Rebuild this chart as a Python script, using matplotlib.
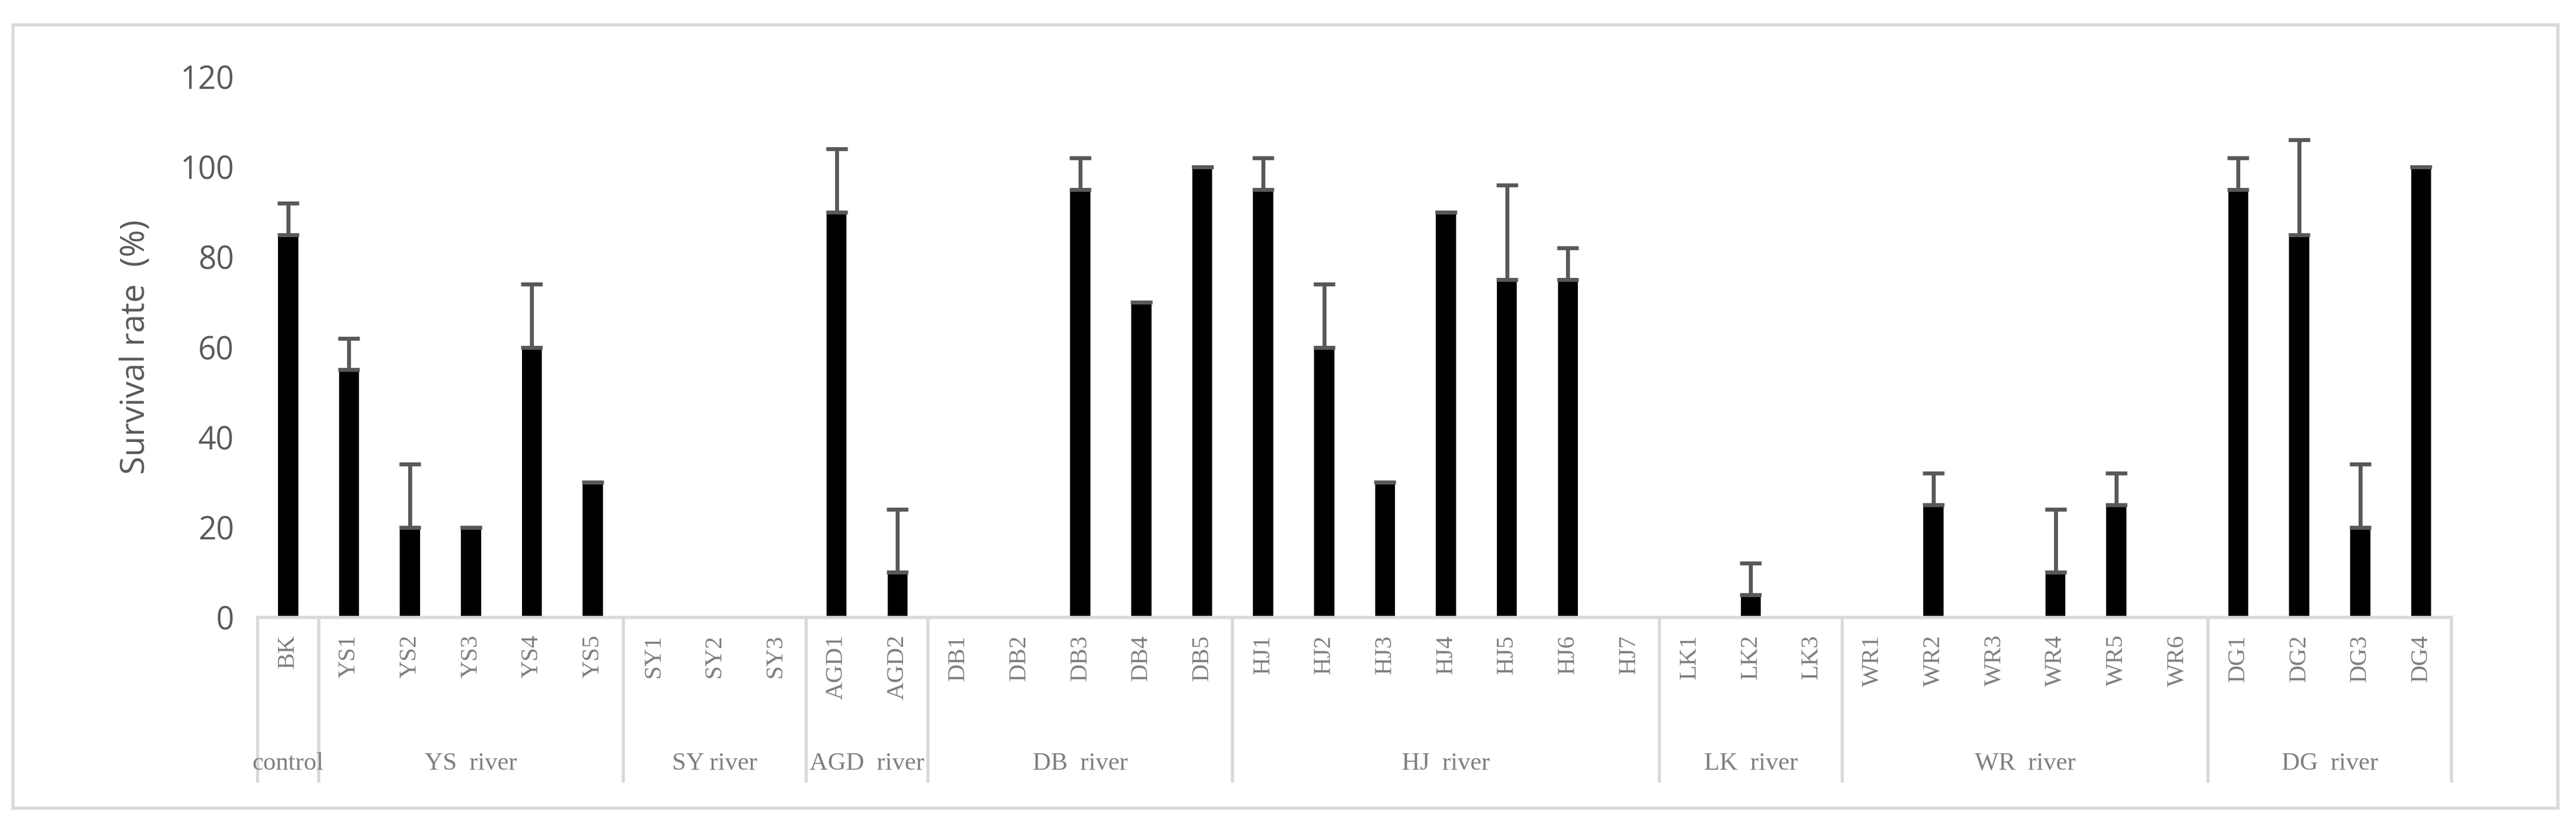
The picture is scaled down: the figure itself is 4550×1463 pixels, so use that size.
import matplotlib
matplotlib.use("Agg")
import matplotlib.pyplot as plt
from matplotlib.patches import Rectangle
import matplotlib.transforms as mtrans

samples = ["BK","YS1","YS2","YS3","YS4","YS5","SY1","SY2","SY3","AGD1","AGD2",
           "DB1","DB2","DB3","DB4","DB5","HJ1","HJ2","HJ3","HJ4","HJ5","HJ6","HJ7",
           "LK1","LK2","LK3","WR1","WR2","WR3","WR4","WR5","WR6","DG1","DG2","DG3","DG4"]
values = [85,55,20,20,60,30,0,0,0,90,10,
          0,0,95,70,100,95,60,30,90,75,75,0,
          0,5,0,0,25,0,10,25,0,95,85,20,100]
errors = [7,7,14,0,14,0,None,None,None,14,14,
          None,None,7,0,0,7,14,0,0,21,7,None,
          None,7,None,None,7,None,14,7,None,7,21,14,0]
groups = ["control","YS  river","SY river","AGD  river","DB  river","HJ  river","LK  river","WR  river","DG  river"]
group_sizes = [1,5,3,2,5,7,3,6,4]

fig = plt.figure(figsize=(45.5,14.63), dpi=100)
fig.patches.append(Rectangle((0.005,0.024),0.988,0.946, transform=fig.transFigure,
                             fill=False, edgecolor="#d9d9d9", linewidth=4))
ax = fig.add_axes([0.1,0.2543,0.8517,0.6527])
x = list(range(len(samples)))
ax.bar(x, values, width=0.33, color="black", zorder=2)
for xi, v, e in zip(x, values, errors):
    if e is None:
        continue
    ax.errorbar([xi],[v],yerr=[[0],[e]], fmt="none", ecolor="#595959",
                elinewidth=5, capsize=14, capthick=5, zorder=3)
ax.set_xlim(-0.5, len(samples)-0.5)
ax.set_ylim(0,120)
ax.set_yticks(range(0,121,20))
ax.tick_params(axis="y", length=0, labelsize=40, labelcolor="#595959", pad=30)
for t in ax.get_yticklabels():
    t.set_family("Open Sans")
ax.set_ylabel("Survival rate  (%)", fontsize=42, color="#595959", family="Open Sans", labelpad=35)
ax.set_xticks(x)
ax.set_xticklabels(samples, rotation=90, fontsize=31, color="#7f7f7f", family="Liberation Serif")
ax.tick_params(axis="x", length=0, pad=22)
for s in ["top","right","left"]:
    ax.spines[s].set_visible(False)
ax.spines["bottom"].set_color("#d9d9d9")
ax.spines["bottom"].set_linewidth(4)

trans = mtrans.blended_transform_factory(ax.transData, ax.transAxes)
bounds = [-0.5]
for g in group_sizes:
    bounds.append(bounds[-1]+g)
for b in bounds:
    ax.plot([b,b],[0,-0.303], transform=trans, color="#d9d9d9", lw=4, clip_on=False)
for i, name in enumerate(groups):
    c = (bounds[i]+bounds[i+1])/2
    ax.text(c, -0.27, name, transform=trans, ha="center", va="center",
            fontsize=32, color="#7f7f7f", family="Liberation Serif")
fig.savefig("out.png", dpi=100)
